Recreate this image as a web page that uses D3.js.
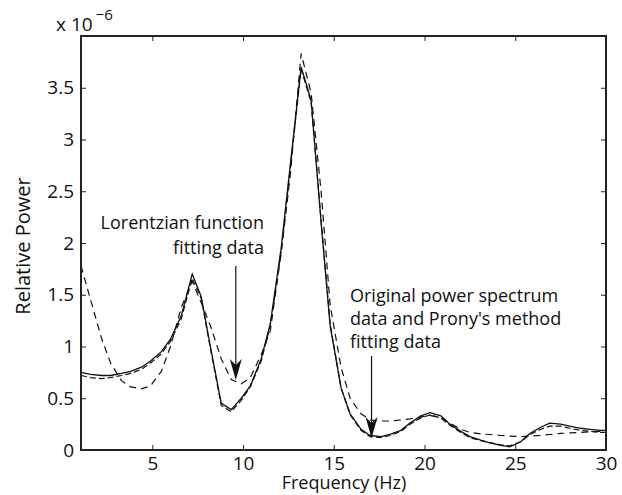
<!DOCTYPE html>
<html>
<head>
<meta charset="utf-8">
<script src="https://cdn.jsdelivr.net/npm/d3@7"></script>
<style>
  body { margin: 0; background: #fff; }
  svg text { font-family: "Open Sans", "Noto Sans", sans-serif; fill: #111; }
</style>
</head>
<body>
<div id="chart"></div>
<script>
// frequencies (Hz) and relative power, in units of 1e-6
var freq = [1.07, 1.6, 2.2, 2.7, 3.3, 3.8, 4.4, 4.9, 5.5, 6.0, 6.6, 7.2, 7.7, 8.2, 8.8, 9.35, 9.9, 10.4, 11.0, 11.5,
  12.1, 12.6, 13.2, 13.75, 14.3, 14.8, 15.4, 15.9, 16.5, 17.0, 17.6, 18.1, 18.7, 19.2, 19.8, 20.3, 20.9, 21.4,
  22.0, 22.5, 23.1, 23.6, 24.2, 24.7, 25.3, 25.8, 26.4, 26.9, 27.5, 28.0, 28.6, 29.1, 29.7, 30.0];

var original = [0.75, 0.73, 0.72, 0.72, 0.74, 0.76, 0.80, 0.86, 0.95, 1.07, 1.30, 1.70, 1.48, 1.00, 0.45, 0.39, 0.50, 0.62, 0.88, 1.22,
  1.95, 2.75, 3.70, 3.38, 2.20, 1.20, 0.60, 0.35, 0.20, 0.14, 0.13, 0.15, 0.19, 0.26, 0.33, 0.36, 0.33, 0.25,
  0.18, 0.13, 0.095, 0.07, 0.045, 0.03, 0.08, 0.16, 0.22, 0.26, 0.25, 0.23, 0.21, 0.20, 0.19, 0.19];

var prony = [0.72, 0.70, 0.69, 0.70, 0.72, 0.74, 0.78, 0.84, 0.93, 1.05, 1.27, 1.66, 1.46, 0.98, 0.43, 0.37, 0.48, 0.61, 0.86, 1.20,
  1.92, 2.72, 3.68, 3.36, 2.22, 1.22, 0.60, 0.34, 0.19, 0.13, 0.12, 0.14, 0.18, 0.25, 0.31, 0.34, 0.31, 0.24,
  0.17, 0.12, 0.09, 0.07, 0.05, 0.04, 0.08, 0.15, 0.20, 0.23, 0.23, 0.21, 0.19, 0.18, 0.17, 0.17];

var lorentz = [1.78, 1.45, 1.08, 0.84, 0.67, 0.61, 0.59, 0.62, 0.76, 1.00, 1.38, 1.63, 1.42, 1.20, 0.88, 0.68, 0.64, 0.70, 0.92, 1.15,
  1.90, 2.65, 3.83, 3.45, 2.50, 1.40, 0.80, 0.50, 0.35, 0.29, 0.28, 0.28, 0.29, 0.30, 0.32, 0.335, 0.31, 0.26,
  0.20, 0.17, 0.155, 0.15, 0.14, 0.135, 0.13, 0.135, 0.14, 0.15, 0.16, 0.165, 0.17, 0.175, 0.18, 0.185];

var xTicks = [5, 10, 15, 20, 25, 30];
var yTicks = [0, 0.5, 1, 1.5, 2, 2.5, 3, 3.5, 4];

var width = 622, height = 495;
var plot = { x0: 81, x1: 606, y0: 36, y1: 450 };

var svg = d3.select("#chart")
  .append("svg")
  .attr("width", width)
  .attr("height", height)
;

var x = d3.scaleLinear().domain([1.07, 30]).range([plot.x0, plot.x1]);
var y = d3.scaleLinear().domain([0, 4]).range([plot.y1, plot.y0]);

function rows(vals) {
  return freq.map(function(f, i) { return [f, vals[i]]; });
}

var line = d3.line()
  .x(function(d) { return x(d[0]); })
  .y(function(d) { return y(d[1]); })
;

// curves
svg.append("path")
  .datum(rows(lorentz))
  .attr("d", line)
  .attr("fill", "none")
  .attr("stroke", "#111")
  .attr("stroke-width", 1.2)
  .attr("stroke-dasharray", "7,5")
;
svg.append("path")
  .datum(rows(prony))
  .attr("d", line)
  .attr("fill", "none")
  .attr("stroke", "#111")
  .attr("stroke-width", 1.2)
  .attr("stroke-dasharray", "6,3")
;
svg.append("path")
  .datum(rows(original))
  .attr("d", line)
  .attr("fill", "none")
  .attr("stroke", "#111")
  .attr("stroke-width", 1.3)
;

// axes, boxed with ticks pointing in
var axisColor = "#222";
var tickLen = 5;

svg.append("g")
  .attr("transform", "translate(0," + plot.y1 + ")")
  .call(d3.axisBottom(x).tickValues(xTicks).tickSizeInner(-tickLen).tickSizeOuter(0).tickPadding(7))
  .call(function(g) {
    g.select(".domain").remove();
    g.selectAll("line").attr("stroke", axisColor);
    g.selectAll("text").attr("font-size", 19).attr("font-family", null).attr("fill", "#111");
  })
;
svg.append("g")
  .attr("transform", "translate(0," + plot.y0 + ")")
  .call(d3.axisTop(x).tickValues(xTicks).tickSizeInner(-tickLen).tickSizeOuter(0).tickFormat(""))
  .call(function(g) {
    g.select(".domain").remove();
    g.selectAll("line").attr("stroke", axisColor);
  })
;
svg.append("g")
  .attr("transform", "translate(" + plot.x0 + ",0)")
  .call(d3.axisLeft(y).tickValues(yTicks).tickSizeInner(-tickLen).tickSizeOuter(0).tickPadding(7)
    .tickFormat(function(d) { return d === 4 ? "" : d3.format("")(d); }))
  .call(function(g) {
    g.select(".domain").remove();
    g.selectAll("line").attr("stroke", axisColor);
    g.selectAll("text").attr("font-size", 19).attr("font-family", null).attr("fill", "#111");
  })
;
svg.append("g")
  .attr("transform", "translate(" + plot.x1 + ",0)")
  .call(d3.axisRight(y).tickValues(yTicks).tickSizeInner(-tickLen).tickSizeOuter(0).tickFormat(""))
  .call(function(g) {
    g.select(".domain").remove();
    g.selectAll("line").attr("stroke", axisColor);
  })
;

svg.append("rect")
  .attr("x", plot.x0)
  .attr("y", plot.y0)
  .attr("width", plot.x1 - plot.x0)
  .attr("height", plot.y1 - plot.y0)
  .attr("fill", "none")
  .attr("stroke", axisColor)
  .attr("stroke-width", 2)
;

// axis titles
svg.append("text")
  .attr("x", 344)
  .attr("y", 489)
  .attr("text-anchor", "middle")
  .attr("font-size", 18)
  .text("Frequency (Hz)")
;
svg.append("text")
  .attr("transform", "translate(30,246) rotate(-90)")
  .attr("text-anchor", "middle")
  .attr("font-size", 20)
  .text("Relative Power")
;

// exponent
var expo = svg.append("text")
  .attr("x", 56)
  .attr("y", 31)
  .attr("font-size", 19)
;
expo.append("tspan").text("x 10");
expo.append("tspan").attr("dx", 3).attr("dy", -11).attr("font-size", 15).text("\u22126");

// annotations
function arrow(xv, ya, yb) {
  var px = x(xv);
  svg.append("line")
    .attr("x1", px).attr("x2", px)
    .attr("y1", ya).attr("y2", yb - 12)
    .attr("stroke", "#111")
    .attr("stroke-width", 1.2)
  ;
  svg.append("path")
    .attr("d", "M" + px + "," + yb + " L" + (px - 6) + "," + (yb - 21) +
      " L" + px + "," + (yb - 15) + " L" + (px + 6) + "," + (yb - 21) + "Z")
    .attr("fill", "#111")
  ;
}

var lorLines = ["Lorentzian function", "fitting data"];
svg.append("g")
  .selectAll("text")
  .data(lorLines)
  .enter()
  .append("text")
  .attr("x", 264)
  .attr("y", function(d, i) { return 229 + i * 25; })
  .attr("text-anchor", "end")
  .attr("font-size", 18)
  .text(function(d) { return d; })
;
arrow(9.6, 266, 380);

var pronyLines = ["Original power spectrum", "data and Prony's method", "fitting data"];
svg.append("g")
  .selectAll("text")
  .data(pronyLines)
  .enter()
  .append("text")
  .attr("x", 350)
  .attr("y", function(d, i) { return 302 + i * 23; })
  .attr("font-size", 18)
  .text(function(d) { return d; })
;
arrow(17.08, 356, 438);
</script>
</body>
</html>
